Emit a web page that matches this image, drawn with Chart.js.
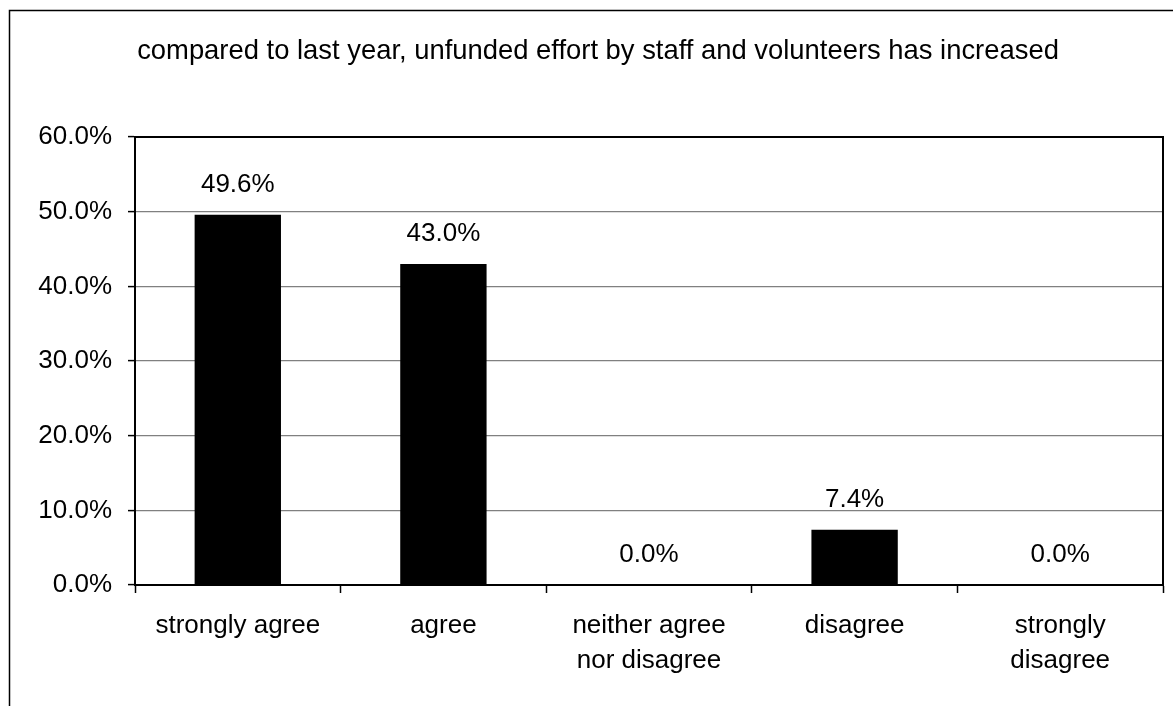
<!DOCTYPE html>
<html>
<head>
<meta charset="utf-8">
<script src="https://cdn.jsdelivr.net/npm/chart.js@4/dist/chart.umd.min.js"></script>
<style>
  html, body { margin: 0; padding: 0; background: #fff; }
  #wrap { position: relative; width: 1173px; height: 706px; }
  canvas { display: block; }
</style>
</head>
<body>
<div id="wrap"><canvas id="c" width="1173" height="706"></canvas></div>
<script>
const titleText = "compared to last year, unfunded effort by staff and volunteers has increased";
const categories = [
  "strongly agree",
  "agree",
  ["neither agree", "nor disagree"],
  "disagree",
  ["strongly", "disagree"]
];
const values = [49.6, 43.0, 0.0, 7.4, 0.0];
const yTicks = [0, 10, 20, 30, 40, 50, 60];

const FONT = "'Liberation Sans', Arial, sans-serif";

const frame = {
  id: 'frame',
  beforeDraw(chart) {
    const ctx = chart.ctx;
    ctx.save();
    ctx.strokeStyle = '#000';
    ctx.lineWidth = 1.5;
    ctx.beginPath();
    ctx.moveTo(9.5, 720);
    ctx.lineTo(9.5, 10.5);
    ctx.lineTo(1180, 10.5);
    ctx.stroke();
    // title
    ctx.fillStyle = '#000';
    ctx.font = '27.4px ' + FONT;
    ctx.textAlign = 'center';
    ctx.textBaseline = 'middle';
    ctx.fillText(titleText, 598, 51.5);
    ctx.restore();
  },
  afterDatasetsDraw(chart) {
    const ctx = chart.ctx;
    const a = chart.chartArea;
    ctx.save();
    ctx.strokeStyle = '#000';
    ctx.lineWidth = 2;
    ctx.strokeRect(a.left, a.top, a.right - a.left, a.bottom - a.top);
    // data labels
    const meta = chart.getDatasetMeta(0);
    ctx.fillStyle = '#000';
    ctx.font = '26px ' + FONT;
    ctx.textAlign = 'center';
    ctx.textBaseline = 'middle';
    meta.data.forEach((bar, i) => {
      ctx.fillText(values[i].toFixed(1) + '%', bar.x, bar.y - 30);
    });
    ctx.restore();
  }
};

new Chart(document.getElementById('c'), {
  type: 'bar',
  data: {
    labels: categories,
    datasets: [{
      data: values,
      backgroundColor: '#000',
      borderWidth: 0,
      categoryPercentage: 1.0,
      barPercentage: 0.42
    }]
  },
  options: {
    responsive: false,
    animation: false,
    devicePixelRatio: 1,
    layout: { padding: { left: 0, right: 10, top: 137, bottom: 0 } },
    plugins: {
      legend: { display: false },
      tooltip: { enabled: false },
      title: { display: false }
    },
    scales: {
      x: {
        offset: true,
        grid: {
          offset: true,
          drawOnChartArea: false,
          drawTicks: true,
          tickLength: 8,
          tickColor: '#000',
          tickWidth: 1.5
        },
        border: { color: '#000', width: 2 },
        ticks: {
          color: '#000',
          font: { family: FONT, size: 26, lineHeight: 1.35 },
          padding: 15,
          maxRotation: 0,
          autoSkip: false
        },
        afterFit(scale) { scale.height = 121; }
      },
      y: {
        min: 0,
        max: 60,
        afterBuildTicks(scale) { scale.ticks = yTicks.map(v => ({ value: v })); },
        grid: {
          color: '#808080',
          lineWidth: 1.2,
          tickLength: 7,
          tickColor: '#000',
          tickWidth: 1.5
        },
        border: { color: '#000', width: 2 },
        ticks: {
          color: '#000',
          font: { family: FONT, size: 26 },
          padding: 16,
          callback: v => v.toFixed(1) + '%'
        },
        afterFit(scale) { scale.width = 135; }
      }
    }
  },
  plugins: [frame]
});
</script>
</body>
</html>
